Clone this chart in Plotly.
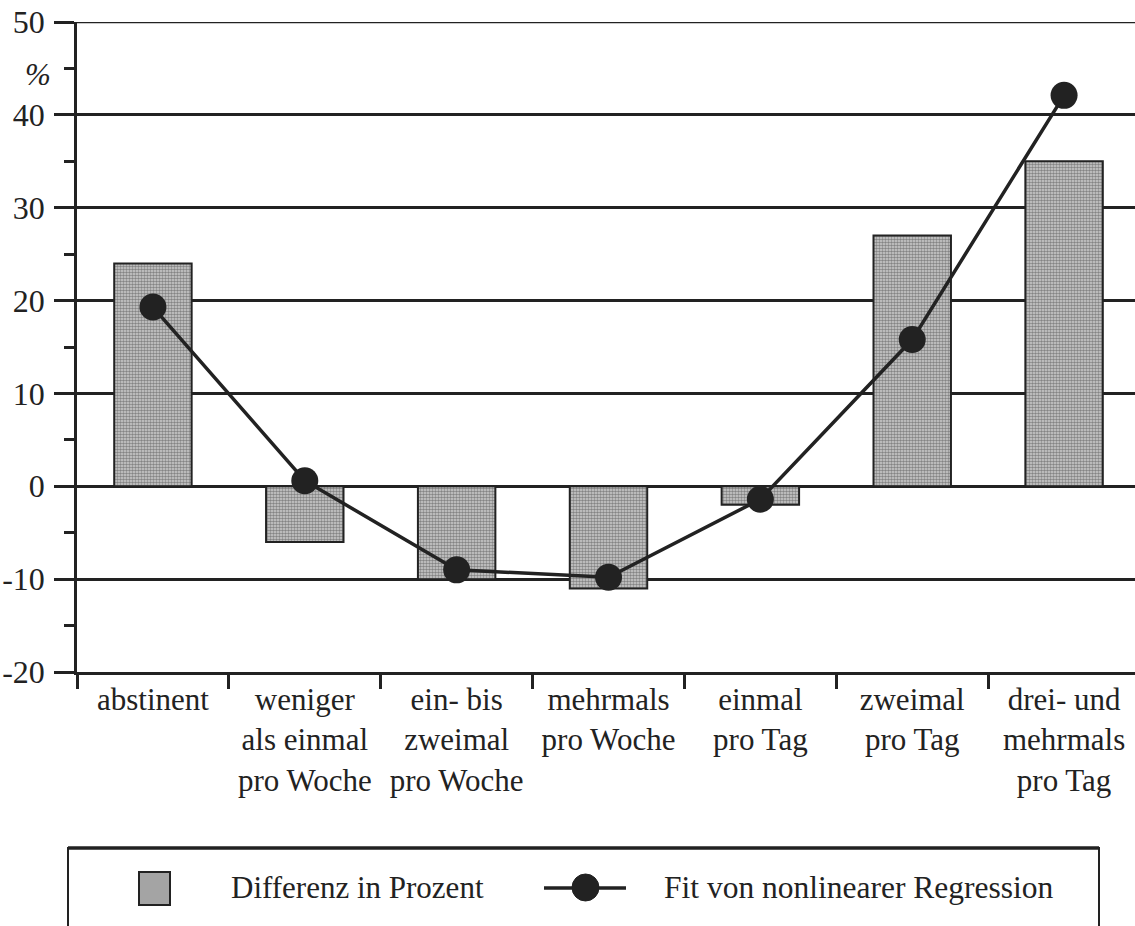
import plotly.graph_objects as go

# Consumption frequency categories
categories = [
    "abstinent",
    "weniger<br>als einmal<br>pro Woche",
    "ein- bis<br>zweimal<br>pro Woche",
    "mehrmals<br>pro Woche",
    "einmal<br>pro Tag",
    "zweimal<br>pro Tag",
    "drei- und<br>mehrmals<br>pro Tag",
]
# Difference in percent (bars)
differenz = [24, -6, -10, -11, -2, 27, 35]
# Fitted values of the nonlinear regression (line)
fit = [19.3, 0.6, -9.0, -9.8, -1.4, 15.8, 42.1]

y_ticks = [-20, -10, 0, 10, 20, 30, 40, 50]

W, H = 1135, 926
ML, MR, MT, MB = 77, 0, 22, 254
PW, PH = W - ML - MR, H - MT - MB

INK = "#222222"
FONT = "Liberation Serif"


def px(x):
    return (x - ML) / PW


def py(y):
    return (H - MB - y) / PH


fig = go.Figure()

fig.add_trace(go.Bar(
    x=categories,
    y=differenz,
    width=0.51,
    marker=dict(
        color="#a8a8a8",
        line=dict(color=INK, width=2),
        pattern=dict(shape=".", size=3, solidity=0.55,
                     fgcolor="#3a3a3a", bgcolor="#cfcfcf"),
    ),
    showlegend=False,
))

fig.add_trace(go.Scatter(
    x=categories,
    y=fit,
    mode="lines+markers",
    line=dict(color=INK, width=3.5),
    marker=dict(color=INK, size=27),
    cliponaxis=False,
    showlegend=False,
))

shapes = [
    # top grid line at the upper end of the value range
    dict(type="line", xref="paper", yref="y",
         x0=px(57), x1=1.0, y0=50, y1=50,
         line=dict(color=INK, width=2.5)),
    # legend box, drawn by hand
    dict(type="rect", xref="paper", yref="paper",
         x0=px(68), x1=px(1099), y0=py(960), y1=py(848),
         line=dict(color=INK, width=2), fillcolor="rgba(0,0,0,0)"),
    dict(type="line", xref="paper", yref="paper",
         x0=px(68), x1=px(1099), y0=py(848), y1=py(848),
         line=dict(color=INK, width=3.5)),
    dict(type="rect", xref="paper", yref="paper",
         x0=px(139), x1=px(170), y0=py(905), y1=py(872),
         line=dict(color=INK, width=2), fillcolor="#a4a4a4"),
    dict(type="line", xref="paper", yref="paper",
         x0=px(544), x1=px(626), y0=py(888), y1=py(888),
         line=dict(color=INK, width=3.5)),
    dict(type="circle", xref="paper", yref="paper",
         x0=px(572), x1=px(599), y0=py(901), y1=py(874),
         line=dict(color=INK, width=1), fillcolor=INK),
]

annotations = [
    dict(text="<i>%</i>", xref="paper", yref="y", x=px(38), y=44.3,
         showarrow=False, font=dict(family=FONT, size=31, color=INK),
         xanchor="center", yanchor="middle"),
    dict(text="Differenz in Prozent", xref="paper", yref="paper",
         x=px(229), y=py(888), xanchor="left", yanchor="middle",
         showarrow=False, font=dict(family=FONT, size=31, color=INK)),
    dict(text="Fit von nonlinearer Regression", xref="paper", yref="paper",
         x=px(662), y=py(888), xanchor="left", yanchor="middle",
         showarrow=False, font=dict(family=FONT, size=31.5, color=INK)),
]

fig.update_layout(
    width=W, height=H,
    margin=dict(l=ML, r=MR, t=MT, b=MB),
    paper_bgcolor="white",
    plot_bgcolor="white",
    font=dict(family=FONT, size=31, color=INK),
    shapes=shapes,
    annotations=annotations,
)

fig.update_xaxes(
    type="category",
    range=[-0.5, 6.467],
    showline=True, linecolor=INK, linewidth=2.5,
    ticks="outside", tickson="boundaries", ticklen=14,
    tickcolor=INK, tickwidth=2.5,
    showgrid=False,
    tickfont=dict(family=FONT, size=31, color=INK),
    ticklabelstandoff=-2,
)

fig.update_yaxes(
    range=[-20, 50],
    tickvals=y_ticks,
    ticktext=[str(v) for v in y_ticks],
    showline=True, linecolor=INK, linewidth=2.5,
    ticks="outside", ticklen=20, tickcolor=INK, tickwidth=2.5,
    showgrid=True, gridcolor=INK, gridwidth=2.5,
    zeroline=False,
    minor=dict(dtick=5, tick0=0, ticks="outside", ticklen=10,
               tickcolor=INK, tickwidth=2.5, showgrid=False),
    ticklabelstandoff=3,
    tickfont=dict(family=FONT, size=32, color=INK),
)

fig.write_html("out.html")
